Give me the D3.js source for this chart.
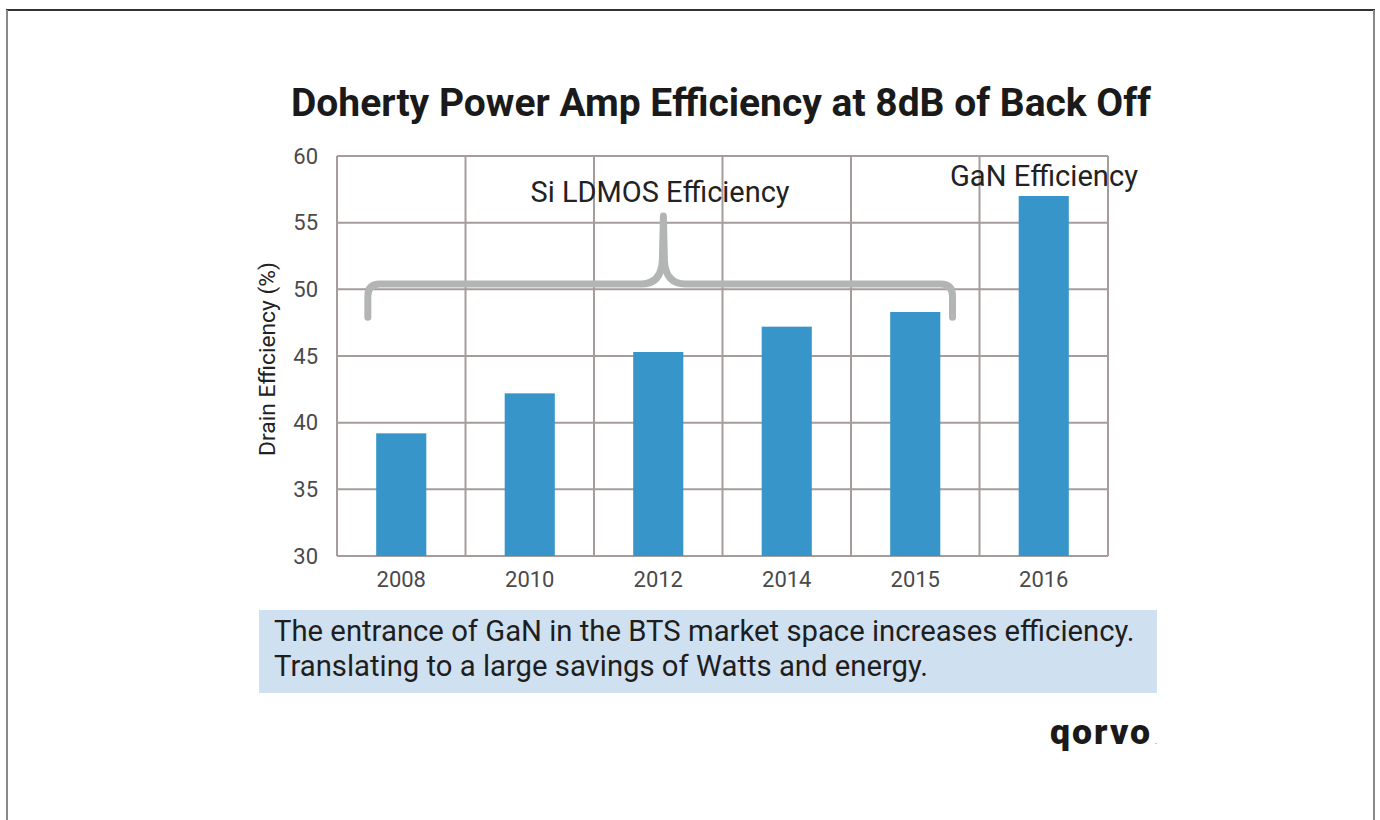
<!DOCTYPE html>
<html>
<head>
<meta charset="utf-8">
<script src="https://cdn.jsdelivr.net/npm/d3@7"></script>
<style>
  body { margin: 0; background: #fff; }
  svg text { font-family: Roboto, "Noto Sans", sans-serif; }
</style>
</head>
<body>
<svg id="chart" width="1380" height="820"></svg>
<script>
const years = ['2008', '2010', '2012', '2014', '2015', '2016'];
const efficiency = [39.2, 42.2, 45.3, 47.2, 48.3, 57.0];
const yTicks = [30, 35, 40, 45, 50, 55, 60];

const svg = d3.select('#chart');

// fit a text element to a target pixel width by scaling its font-size
function fit(sel, w) {
  const node = sel.node();
  const fs = parseFloat(sel.attr('font-size'));
  const len = node.getComputedTextLength();
  sel.attr('font-size', (fs * w / len).toFixed(2));
  return sel;
}

// page frame
svg.append('line').attr('x1', 6).attr('x2', 1375).attr('y1', 10).attr('y2', 10)
  .attr('stroke', '#333').attr('stroke-width', 2);
svg.append('line').attr('x1', 7).attr('x2', 7).attr('y1', 10).attr('y2', 820)
  .attr('stroke', '#888').attr('stroke-width', 2);
svg.append('line').attr('x1', 1374).attr('x2', 1374).attr('y1', 10).attr('y2', 820)
  .attr('stroke', '#888').attr('stroke-width', 2);

const margin = { top: 156, left: 337 },
  width = 1108 - 337,
  height = 556 - 156;

const x = d3.scaleBand().domain(years).range([0, width]).padding(0);
const y = d3.scaleLinear().domain([30, 60]).range([height, 0]);

const g = svg.append('g').attr('transform', 'translate(' + margin.left + ',' + margin.top + ')');

// title
fit(svg.append('text').attr('x', 291).attr('y', 116).attr('font-size', 34)
  .attr('font-weight', 700).attr('fill', '#1a1a1a')
  .text('Doherty Power Amp Efficiency at 8dB of Back Off'), 860);

// grid
const gridColor = '#a59d9b';
g.selectAll('.hgrid').data(yTicks).enter().append('line')
  .attr('x1', 0).attr('x2', width)
  .attr('y1', d => y(d)).attr('y2', d => y(d))
  .attr('stroke', gridColor).attr('stroke-width', 2);
const vlines = years.map(d => x(d)).concat([width]);
g.selectAll('.vgrid').data(vlines).enter().append('line')
  .attr('x1', d => d).attr('x2', d => d)
  .attr('y1', 0).attr('y2', height)
  .attr('stroke', gridColor).attr('stroke-width', 2);

// bars
const barW = x.bandwidth() * 0.39;
g.selectAll('.bar').data(years).enter().append('rect')
  .attr('x', d => x(d) + (x.bandwidth() - barW) / 2)
  .attr('y', (d, i) => y(efficiency[i]))
  .attr('width', barW)
  .attr('height', (d, i) => height - y(efficiency[i]))
  .attr('fill', '#3795c9');

// y axis labels
const yAxis = d3.axisLeft(y).tickValues(yTicks).tickSize(0).tickPadding(19);
const ya = g.append('g').call(yAxis);
ya.select('.domain').remove();
ya.selectAll('text').attr('font-size', 22).attr('fill', '#4a4a4a')
  .style('font-family', 'Roboto, sans-serif');

// x axis labels
const xAxis = d3.axisBottom(x).tickSize(0).tickPadding(15);
const xa = g.append('g').attr('transform', 'translate(0,' + height + ')').call(xAxis);
xa.select('.domain').remove();
xa.selectAll('text').attr('font-size', 22).attr('fill', '#4a4a4a')
  .style('font-family', 'Roboto, sans-serif');

// y title
fit(svg.append('text').attr('transform', 'translate(275,359) rotate(-90)')
  .attr('text-anchor', 'middle').attr('font-size', 19).attr('fill', '#222')
  .text('Drain Efficiency (%)'), 194);

// brace over the Si LDMOS years
const bl = x('2008') + 0.24 * x.bandwidth(),
  br = x('2015') + 0.79 * x.bandwidth(),
  bm = x('2012') + 0.54 * x.bandwidth(),
  yh = y(50.4), ye = y(47.9), yp = y(55.5), r = 12;
g.append('path')
  .attr('d', [
    'M', bl, ye, 'L', bl, yh + r, 'Q', bl, yh, bl + r, yh,
    'L', bm - 22, yh, 'Q', bm - 2, yh, bm - 1, yh - 24, 'L', bm, yp,
    'L', bm + 1, yh - 24, 'Q', bm + 2, yh, bm + 22, yh,
    'L', br - r, yh, 'Q', br, yh, br, yh + r, 'L', br, ye
  ].join(' '))
  .attr('fill', 'none').attr('stroke', '#b3b5b5').attr('stroke-width', 7)
  .attr('stroke-linecap', 'round').attr('stroke-linejoin', 'round');

// annotations
fit(svg.append('text').attr('x', 660).attr('y', 202).attr('text-anchor', 'middle')
  .attr('font-size', 24).attr('fill', '#222').text('Si LDMOS Efficiency'), 259);
fit(svg.append('text').attr('x', 1044).attr('y', 186).attr('text-anchor', 'middle')
  .attr('font-size', 24).attr('fill', '#222').text('GaN Efficiency'), 188);

// caption box
svg.append('rect').attr('x', 259).attr('y', 610).attr('width', 898).attr('height', 83)
  .attr('fill', '#cfe0f1');
const cap1 = fit(svg.append('text').attr('x', 274).attr('y', 641).attr('font-size', 26)
  .attr('fill', '#1e1e1e')
  .text('The entrance of GaN in the BTS market space increases efficiency.'), 861);
svg.append('text').attr('x', 274).attr('y', 676).attr('font-size', cap1.attr('font-size'))
  .attr('fill', '#1e1e1e').text('Translating to a large savings of Watts and energy.');

// logo
fit(svg.append('text').attr('x', 1050).attr('y', 744).attr('font-size', 30)
  .attr('font-weight', 900).attr('fill', '#1a1a1a').attr('letter-spacing', 2)
  .text('qorvo'), 104);
svg.append('text').attr('x', 1155).attr('y', 744).attr('font-size', 7)
  .attr('fill', '#1a1a1a').text('.');
</script>
</body>
</html>
